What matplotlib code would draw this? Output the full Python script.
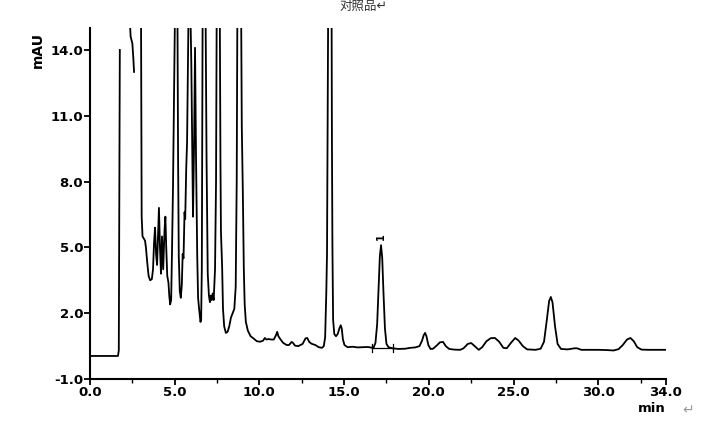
import numpy as np
import matplotlib
matplotlib.use('Agg')
import matplotlib.pyplot as plt

plt.rcParams['font.family'] = ['DejaVu Sans', 'Noto Sans CJK SC']

nan = np.nan
# chromatogram trace (min, mAU); nan = break in the trace
t = [0.0, 1.65, 1.70, 1.76, nan,
     2.30, 2.40, 2.50, 2.56, 2.60, nan,
     3.01, 3.05, 3.10, 3.18, 3.25, 3.30, 3.38, 3.46, 3.55, 3.65, 3.72, 3.78, 3.84, 3.90, 3.96,
     4.02, 4.07, 4.13, 4.19, 4.25, 4.32, 4.40, 4.45, 4.50, 4.56, 4.63, 4.68, 4.73, 4.79, 4.84,
     4.90, 4.97, 5.02, 5.16, 5.20, 5.24, 5.30, 5.36, 5.42, 5.47, 5.52, 5.58, 5.62, 5.68, 5.73,
     5.78, 5.82, 5.92, 5.98, 6.04, 6.08, 6.14, 6.20, 6.26, 6.33, 6.38, 6.44, 6.52, 6.56, 6.60,
     6.65, 6.82, 6.88, 6.95, 7.02, 7.08, 7.13, 7.18, 7.24, 7.30, 7.38, 7.44, 7.48, 7.66, 7.70,
     7.73, 7.80, 7.85, 7.92, 8.02, 8.12, 8.22, 8.32, 8.42, 8.52, 8.60, 8.66, 8.70, 8.92, 8.96,
     9.02, 9.08, 9.13, 9.20, 9.32, 9.48, 9.65, 9.85, 10.05, 10.22, 10.32, 10.42, 10.55, 10.70,
     10.85, 10.98, 11.05, 11.12, 11.25, 11.40, 11.60, 11.75, 11.90, 11.98, 12.10, 12.30, 12.55,
     12.72, 12.82, 12.95, 13.10, 13.30, 13.50, 13.70, 13.80, 13.88, 13.95, 13.99, 14.03, 14.06,
     14.26, 14.28, 14.31, 14.35, 14.42, 14.52, 14.62, 14.72, 14.80, 14.86, 14.93, 15.02, 15.20,
     15.50, 15.80, 16.10, 16.40, 16.60, 16.75, 16.85, 16.95, 17.04, 17.11, 17.18, 17.25, 17.32,
     17.41, 17.50, 17.62, 17.85, 18.2, 18.6, 18.9, 19.2, 19.45, 19.6, 19.70, 19.78, 19.86, 19.97,
     20.10, 20.25, 20.50, 20.65, 20.84, 21.00, 21.20, 21.50, 21.85, 22.05, 22.30, 22.50, 22.70,
     22.95, 23.15, 23.40, 23.65, 23.90, 24.15, 24.40, 24.60, 24.85, 25.10, 25.30, 25.55, 25.80,
     26.30, 26.60, 26.80, 26.95, 27.10, 27.20, 27.30, 27.45, 27.60, 27.80, 28.20, 28.60, 28.75,
     29.00, 29.5, 30.0, 30.5, 30.9, 31.20, 31.45, 31.70, 31.90, 32.10, 32.30, 32.55, 33.0, 33.5, 34.0]
mau = [0.05, 0.05, 0.3, 14.0, nan,
       16, 14.6, 14.3, 13.6, 13.0, nan,
       16, 6.4, 5.5, 5.4, 5.3, 5.0, 4.3, 3.7, 3.5, 3.55, 4.0, 5.2, 5.9, 4.7, 4.2,
       5.6, 6.8, 5.0, 3.8, 5.5, 4.0, 5.8, 6.4, 5.0, 3.7, 3.4, 2.8, 2.4, 2.6, 4.8,
       7.8, 12.5, 16, 16, 9.0, 4.6, 3.0, 2.7, 3.3, 4.7, 4.5, 6.6, 6.3, 8.6, 9.8,
       13.5, 16, 16, 13.4, 9.0, 6.4, 9.5, 14.1, 9.0, 4.6, 2.7, 2.2, 1.6, 1.7, 4.0,
       16, 16, 9.0, 3.8, 2.8, 2.5, 2.8, 2.6, 2.9, 2.6, 4.0, 8.0, 16, 16, 9.0,
       5.7, 4.1, 2.2, 1.4, 1.1, 1.15, 1.4, 1.8, 2.0, 2.2, 3.2, 8.0, 16, 16, 10.5,
       7.6, 4.0, 2.4, 1.6, 1.2, 0.95, 0.85, 0.72, 0.7, 0.75, 0.87, 0.8, 0.82, 0.8,
       0.8, 1.0, 1.15, 0.95, 0.8, 0.65, 0.55, 0.55, 0.69, 0.65, 0.52, 0.5, 0.6,
       0.85, 0.87, 0.68, 0.6, 0.55, 0.45, 0.42, 0.5, 0.9, 3.0, 4.7, 10.7, 16,
       16, 10.0, 5.0, 1.7, 1.05, 0.95, 1.05, 1.3, 1.45, 1.3, 0.8, 0.55, 0.45,
       0.47, 0.44, 0.45, 0.46, 0.43, 0.45, 0.65, 1.5, 3.3, 4.6, 5.1, 4.5, 3.0,
       1.3, 0.6, 0.45, 0.4, 0.37, 0.38, 0.42, 0.44, 0.5, 0.75, 1.0, 1.1, 0.95, 0.55,
       0.37, 0.38, 0.55, 0.67, 0.69, 0.5, 0.37, 0.34, 0.33, 0.4, 0.6, 0.64, 0.5,
       0.33, 0.45, 0.72, 0.86, 0.87, 0.7, 0.42, 0.4, 0.65, 0.87, 0.75, 0.5, 0.35,
       0.33, 0.38, 0.7, 1.6, 2.55, 2.74, 2.5, 1.4, 0.6, 0.37, 0.35, 0.4, 0.4,
       0.33, 0.33, 0.33, 0.32, 0.3, 0.36, 0.55, 0.8, 0.87, 0.72, 0.45, 0.34, 0.33, 0.33, 0.33]

# integration baseline of peak 1
base_t = [16.65, 17.89]
base_y = [0.41, 0.41]
peak1_t = 17.18
peak1_y = 5.1

xticks = [0, 5, 10, 15, 20, 25, 30, 34]
yticks = [-1, 2, 5, 8, 11, 14]

fig = plt.figure(figsize=(7.03, 4.26), dpi=100)
ax = fig.add_axes([90/703, 1 - 379/426, 576/703, 351/426])
ax.plot(t, mau, color='black', lw=1.3)
ax.plot(base_t, base_y, color='black', lw=0.9)
for bt in base_t:
    ax.plot([bt, bt], [base_y[0] - 0.2, base_y[0] + 0.2], color='black', lw=0.9)
ax.text(peak1_t, peak1_y + 0.25, '1', rotation=90, ha='center', va='bottom',
        fontsize=7, fontweight='bold')

ax.set_xlim(0, 34)
ax.set_ylim(-1, 15)
ax.set_xticks(xticks)
ax.set_xticklabels(['%.1f' % v for v in xticks])
ax.set_xticks(np.arange(2.5, 34, 5), minor=True)
ax.set_yticks(yticks)
ax.set_yticklabels(['%.1f' % v for v in yticks])
for s in ['top', 'right']:
    ax.spines[s].set_visible(False)
for s in ['left', 'bottom']:
    ax.spines[s].set_linewidth(1.5)
ax.tick_params(which='major', direction='out', length=4, width=1.3, labelsize=9.5, pad=1)
ax.tick_params(which='minor', direction='out', length=3, width=1.0)
for lab in ax.get_xticklabels() + ax.get_yticklabels():
    lab.set_fontweight('bold')

fig.text(38/703, 1 - 50/426, 'mAU', rotation=90, ha='center', va='center',
         fontsize=10, fontweight='bold')
fig.text(652/703, 1 - 409/426, 'min', ha='center', va='center', fontsize=9.5, fontweight='bold')
fig.text(688/703, 1 - 410/426, '\u21b5', ha='center', va='center', fontsize=10, color='#999999')
fig.text(363/703, 1.0, '对照品\u21b5', ha='center', va='top', fontsize=9,
         color='#333333', family=['Noto Sans CJK SC', 'DejaVu Sans'])

fig.savefig('out.png', dpi=100)
